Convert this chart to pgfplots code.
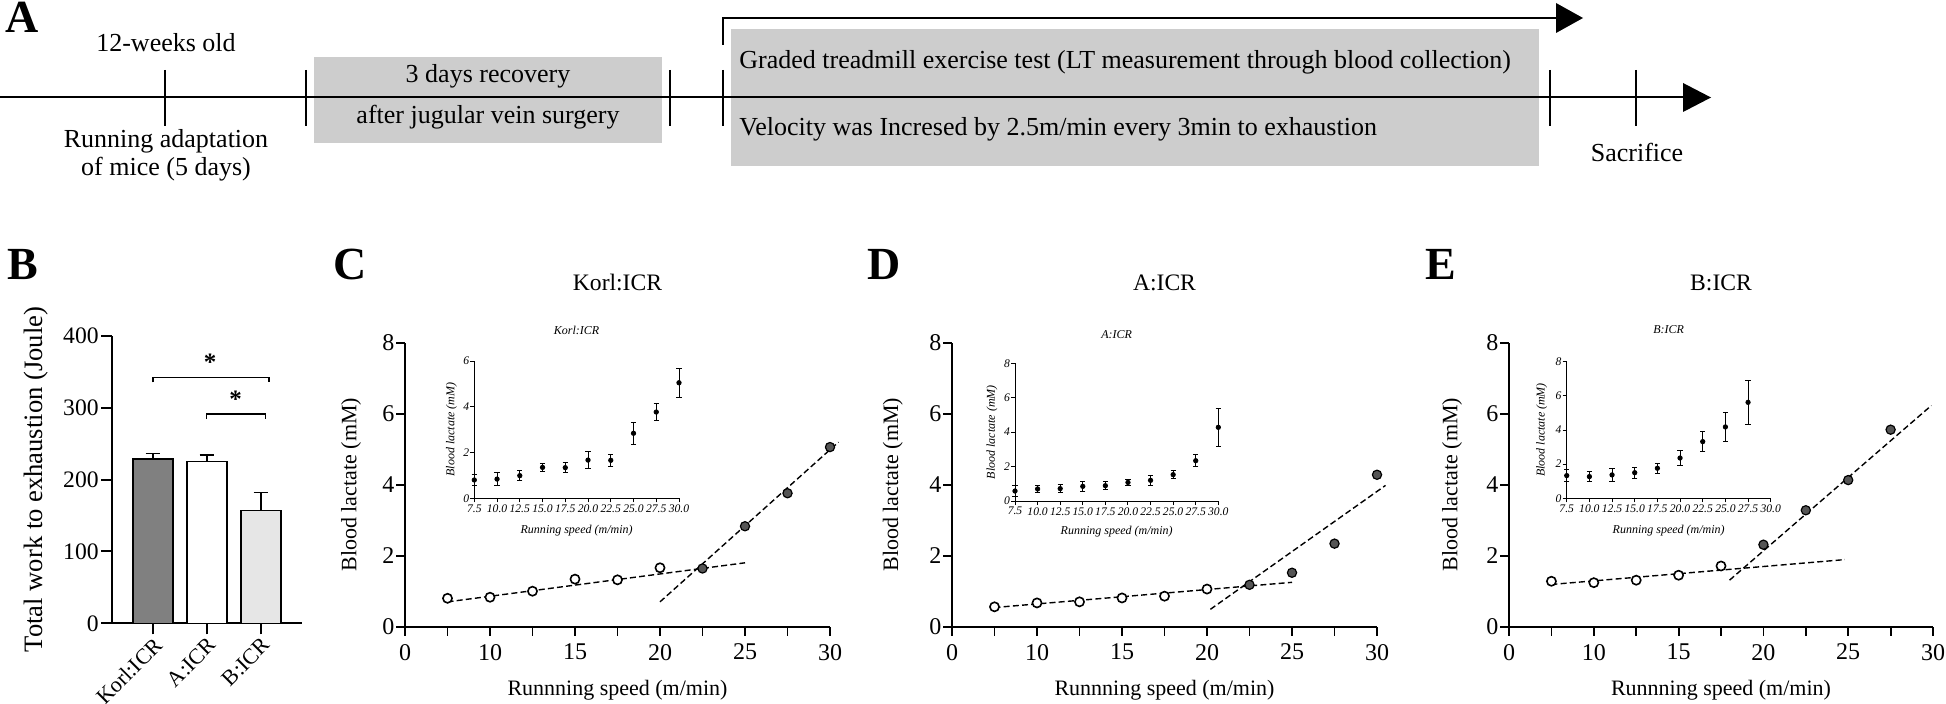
\documentclass[border=0pt]{standalone}
\usepackage{pgfplots}
\pgfplotsset{compat=1.18}
\usepackage{fontspec}
\setmainfont{Liberation Serif}
\definecolor{boxgray}{HTML}{CDCDCD}
\definecolor{bardark}{HTML}{808080}
\definecolor{barlight}{HTML}{E6E6E6}
\definecolor{ptfill}{HTML}{555555}

\pgfplotsset{
  /pgf/number format/assume math mode=true,
  mainax/.style={
    scale only axis, height=142pt,
    axis lines=left, axis line style={-, line width=0.9pt},
    xmin=5, xmax=30, ymin=0, ymax=8,
    xtick={5,7.5,10,12.5,15,17.5,20,22.5,25,27.5,30},
    xticklabels={\textrm{0},,\textrm{10},,\textrm{15},,\textrm{20},,\textrm{25},,\textrm{30}},
    ytick={0,2,4,6,8},
    yticklabels={\textrm{0},\textrm{2},\textrm{4},\textrm{6},\textrm{8}},
    tick align=outside,
    major tick length=4.5pt,
    tick style={black, line width=0.9pt},
    tick label style={font=\fontsize{12}{13}\selectfont},
    yticklabel style={inner sep=0.6pt},
    xticklabel style={inner sep=4pt},
    label style={font=\fontsize{11}{12}\selectfont},
    clip=false,
    xlabel={Runnning speed (m/min)},
    ylabel={Blood lactate (mM)},
    xlabel style={at={(axis description cs:0.5,-0.2405)}, anchor=base},
    title style={at={(axis description cs:0.5,1.143)}, anchor=base, yshift=0pt, font=\fontsize{11.8}{12}\selectfont},
  },
  inax/.style={
    scale only axis,
    axis lines=left, axis line style={-, line width=0.5pt},
    xmin=7.5, xmax=30, ymin=0,
    xtick={7.5,10,12.5,15,17.5,20,22.5,25,27.5,30},
    xticklabels={\textit{7.5},\textit{10.0},\textit{12.5},\textit{15.0},\textit{17.5},\textit{20.0},\textit{22.5},\textit{25.0},\textit{27.5},\textit{30.0}},
    tick align=outside,
    major tick length=2pt,
    tick style={black, line width=0.5pt},
    tick label style={font=\itshape\fontsize{5.8}{6}\selectfont},
    yticklabel style={inner sep=0.4pt},
    xticklabel style={inner sep=1pt},
    label style={font=\itshape\fontsize{6}{7}\selectfont},
    clip=false,
    xlabel={Running speed (m/min)},
    ylabel={Blood lactate (mM)},
    title style={anchor=base, yshift=0pt, font=\itshape\fontsize{6}{7}\selectfont},
  },
  openpt/.style={only marks, mark=*, mark size=2.3pt, mark options={fill=white, draw=black, line width=0.8pt}},
  fillpt/.style={only marks, mark=*, mark size=2.3pt, mark options={fill=ptfill, draw=black, line width=0.6pt}},
  fitline/.style={black, line width=0.7pt, dash pattern=on 3pt off 1.6pt},
  inpt/.style={only marks, mark=*, mark size=1.1pt, black,
    error bars/.cd, y dir=both, y explicit,
    error bar style={line width=0.5pt, black},
    error mark options={rotate=90, mark size=1.3pt, line width=0.5pt, black}},
}

\begin{document}
\begin{tikzpicture}
\path[use as bounding box] (0pt,0pt) rectangle (973pt,-352pt);

\begin{scope}[x=0.5pt, y=-0.5pt]
% ---------------- Panel A ----------------
\node[anchor=base west, inner sep=0, font=\bfseries\fontsize{23}{26}\selectfont] at (5,33) {A};
\fill[boxgray] (314,57) rectangle (662,143);
\fill[boxgray] (731,29) rectangle (1539,166);
\draw[line width=1pt] (0,97) -- (1686,97);
\fill (1683,83) -- (1711,97.5) -- (1683,112) -- cycle;
\foreach \xx in {165,306,670,723,1550,1636} \draw[line width=0.6pt] (\xx,70) -- (\xx,126);
\draw[line width=1pt] (723,45) -- (723,18) -- (1560,18);
\fill (1556,3) -- (1583,18) -- (1556,33) -- cycle;
\begin{scope}[every node/.style={font=\fontsize{13}{15.6}\selectfont, inner sep=0}]
\node[anchor=base] at (166,52) {12-weeks old};
\node[anchor=base] at (166,148) {Running adaptation};
\node[anchor=base] at (166,176) {of mice (5 days)};
\node[anchor=base] at (488,83) {3 days recovery};
\node[anchor=base] at (488,124) {after jugular vein surgery};
\node[anchor=base west] at (739,69) {Graded treadmill exercise test (LT measurement through blood collection)};
\node[anchor=base west] at (739,136) {Velocity was Incresed by 2.5m/min every 3min to exhaustion};
\node[anchor=base] at (1637,162) {Sacrifice};
\end{scope}

% ---------------- Panel labels ----------------
\begin{scope}[every node/.style={anchor=base west, inner sep=0, font=\bfseries\fontsize{23}{26}\selectfont}]
\node at (7,280) {B};
\node at (333,280) {C};
\node at (867,280) {D};
\node at (1425,280) {E};
\end{scope}
\end{scope}

% ---------------- Panel B ----------------
\begin{axis}[
  at={(56pt,-311.65pt)}, anchor=south west,
  scale only axis, width=95pt, height=143.8pt,
  axis lines=left, axis line style={-, line width=1pt},
  xmin=0.24, xmax=3.76, ymin=0, ymax=400,
  xtick={1,2,3}, xticklabels={Korl:ICR, A:ICR, B:ICR},
  ytick={0,100,200,300,400},
  yticklabels={\textrm{0},\textrm{100},\textrm{200},\textrm{300},\textrm{400}},
  tick align=outside, major tick length=5.5pt,
  tick style={black, line width=1pt},
  tick label style={font=\fontsize{11.8}{12}\selectfont},
  yticklabel style={inner sep=1pt},
  xticklabel style={rotate=45, anchor=north east, inner sep=0.5pt, font=\fontsize{11}{12}\selectfont},
  ylabel={Total work to exhaustion (Joule)},
  ylabel style={at={(axis description cs:-0.4,0.5)}, anchor=center, font=\fontsize{13.3}{14}\selectfont},
  clip=false,
]
\addplot[ybar, bar width=20pt, draw=black, line width=0.7pt, fill=bardark,
  error bars/.cd, y dir=plus, y explicit, error bar style={line width=0.7pt, black},
  error mark options={rotate=90, mark size=3.7pt, line width=0.7pt, black}]
  coordinates {(1,228.5) +- (0,7.5)};
\addplot[ybar, bar width=20pt, draw=black, line width=0.7pt, fill=white,
  error bars/.cd, y dir=plus, y explicit, error bar style={line width=0.7pt, black},
  error mark options={rotate=90, mark size=3.7pt, line width=0.7pt, black}]
  coordinates {(2,224.7) +- (0,9.3)};
\addplot[ybar, bar width=20pt, draw=black, line width=0.7pt, fill=barlight,
  error bars/.cd, y dir=plus, y explicit, error bar style={line width=0.7pt, black},
  error mark options={rotate=90, mark size=3.7pt, line width=0.7pt, black}]
  coordinates {(3,156.6) +- (0,25)};
\draw[line width=0.6pt] (axis cs:1,335) -- (axis cs:1,342) -- (axis cs:3.15,342) -- (axis cs:3.15,335);
\draw[line width=0.6pt] (axis cs:1.99,284) -- (axis cs:1.99,291) -- (axis cs:3.09,291) -- (axis cs:3.09,284);
\node[anchor=base, inner sep=0, font=\bfseries\fontsize{12.5}{12}\selectfont] at (axis cs:2.06,352) {*};
\node[anchor=base, inner sep=0, font=\bfseries\fontsize{12.5}{12}\selectfont] at (axis cs:2.53,300) {*};
\end{axis}

% ---------------- Panel C ----------------
\begin{axis}[mainax, at={(202.5pt,-313.35pt)}, anchor=south west, width=212.5pt,
  title={Korl:ICR},
  ylabel style={at={(axis description cs:-0.127,0.5)}, anchor=center}]
\addplot[fitline] coordinates {(7.5,0.70) (25,1.80)};
\addplot[fitline] coordinates {(20,0.70) (30.5,5.20)};
\addplot[openpt] coordinates {(7.5,0.80) (10,0.83) (12.5,1.00) (15,1.34) (17.5,1.32) (20,1.66)};
\addplot[fillpt] coordinates {(22.5,1.64) (25,2.83) (27.5,3.76) (30,5.06)};
\end{axis}
\begin{axis}[inax, at={(237.15pt,-249.15pt)}, anchor=south west, width=102.35pt, height=68.65pt,
  ymax=6, ytick={0,2,4,6}, yticklabels={\textit{0},\textit{2},\textit{4},\textit{6}},
  title={Korl:ICR}, title style={at={(axis description cs:0.5,1.107)}},
  ylabel style={at={(axis description cs:-0.112,0.5)}, anchor=center},
  xlabel style={at={(axis description cs:0.5,-0.26)}, anchor=base}]
\addplot[inpt] table[x=x, y=y, y error=e] {
x y e
7.5 0.80 0.23
10 0.84 0.27
12.5 0.99 0.23
15 1.35 0.19
17.5 1.34 0.22
20 1.67 0.37
22.5 1.66 0.25
25 2.84 0.47
27.5 3.77 0.37
30 5.05 0.64
};
\end{axis}

% ---------------- Panel D ----------------
\begin{axis}[mainax, at={(476pt,-313.35pt)}, anchor=south west, width=212.5pt,
  title={A:ICR},
  ylabel style={at={(axis description cs:-0.139,0.5)}, anchor=center}]
\addplot[fitline] coordinates {(7.5,0.54) (25,1.25)};
\addplot[fitline] coordinates {(20.2,0.49) (30.5,3.98)};
\addplot[openpt] coordinates {(7.5,0.56) (10,0.67) (12.5,0.70) (15,0.81) (17.5,0.86) (20,1.06)};
\addplot[fillpt] coordinates {(22.5,1.18) (25,1.52) (27.5,2.34) (30,4.28)};
\end{axis}
\begin{axis}[inax, at={(507.5pt,-250.5pt)}, anchor=south west, width=101.65pt, height=68.85pt,
  ymax=8, ytick={0,2,4,6,8}, yticklabels={\textit{0},\textit{2},\textit{4},\textit{6},\textit{8}},
  title={A:ICR}, title style={at={(axis description cs:0.5,1.094)}},
  ylabel style={at={(axis description cs:-0.113,0.5)}, anchor=center},
  xlabel style={at={(axis description cs:0.5,-0.246)}, anchor=base}]
\addplot[inpt] table[x=x, y=y, y error=e] {
x y e
7.5 0.58 0.31
10 0.70 0.21
12.5 0.72 0.25
15 0.85 0.29
17.5 0.89 0.23
20 1.08 0.18
22.5 1.20 0.29
25 1.53 0.25
27.5 2.34 0.35
30 4.28 1.11
};
\end{axis}

% ---------------- Panel E ----------------
\begin{axis}[mainax, at={(754.5pt,-313.35pt)}, anchor=south west, width=212pt,
  title={B:ICR},
  ylabel style={at={(axis description cs:-0.134,0.5)}, anchor=center}]
\addplot[fitline] coordinates {(7.5,1.19) (24.8,1.89)};
\addplot[fitline] coordinates {(18,1.31) (29.9,6.23)};
\addplot[openpt] coordinates {(7.5,1.28) (10,1.24) (12.5,1.31) (15,1.45) (17.5,1.71)};
\addplot[fillpt] coordinates {(20,2.31) (22.5,3.28) (25,4.13) (27.5,5.55)};
\end{axis}
\begin{axis}[inax, at={(783.35pt,-249.15pt)}, anchor=south west, width=102pt, height=68.3pt,
  ymax=8, ytick={0,2,4,6,8}, yticklabels={\textit{0},\textit{2},\textit{4},\textit{6},\textit{8}},
  title={B:ICR}, title style={at={(axis description cs:0.5,1.122)}},
  ylabel style={at={(axis description cs:-0.122,0.5)}, anchor=center},
  xlabel style={at={(axis description cs:0.5,-0.26)}, anchor=base}]
\addplot[inpt] table[x=x, y=y, y error=e] {
x y e
7.5 1.33 0.35
10 1.27 0.31
12.5 1.37 0.39
15 1.50 0.32
17.5 1.76 0.29
20 2.36 0.43
22.5 3.32 0.58
25 4.18 0.85
27.5 5.62 1.29
};
\end{axis}
\end{tikzpicture}
\end{document}
